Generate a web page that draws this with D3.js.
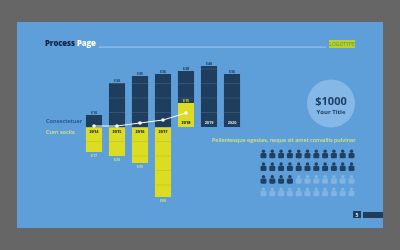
<!DOCTYPE html>
<html><head><meta charset="utf-8">
<script src="https://cdn.jsdelivr.net/npm/d3@7"></script>
<style>html,body{margin:0;padding:0;background:#666}svg{display:block;filter:blur(.35px)}text{font-family:"Open Sans",sans-serif}</style>
</head><body><svg id="c" width="400" height="250"></svg>
<script>
const years=["2014","2015","2016","2017","2018","2019","2020"];
const darkValues=[12,44,51,53,56,61,53];
const darkLabels=["$10","$30","$35","$36","$38","$40","$36"];
const yellowValues=[-25,-29,-36,-70,24,0,0];
const yellowLabels=["$17","$20","$25","$50","$15","",""];
const lineValues=[1,1,4,7,14];
const rowsOn=[11,11,4,0];
const iconCols=d3.range(11);
const iconRows=d3.range(4);

const svg=d3.select("#c");
const dark="#1f3d5c",yellow="#dcdc22",pale="#d4e67c";
svg.append("rect").attr("x",17).attr("y",22).attr("width",366).attr("height",206).attr("fill","#5f9fd9");

// header
const t=svg.append("text").attr("x",45).attr("y",45.5).attr("font-size",7.8).attr("font-weight",800).attr("letter-spacing",-.1);
t.append("tspan").attr("fill","#0d2244").text("Process ");
t.append("tspan").attr("fill","#fff").text("Page");
svg.append("rect").attr("x",99).attr("y",46.5).attr("width",227).attr("height",1.2).attr("fill","#94c3ec");
svg.append("rect").attr("x",329).attr("y",40).attr("width",26).attr("height",8).attr("fill","#b4d236");
svg.append("text").attr("x",342).attr("y",46).attr("text-anchor","middle").attr("font-size",5).attr("fill","#6f8f30").text("LOGOTYPE");

// chart
const x=d3.scaleBand().domain(years).range([82.5,243.5]).paddingInner(.3).paddingOuter(.15);
const y=d3.scaleLinear().domain([-70,61]).range([197,66]);
const y0=y(0);
const g=svg.append("g");
// dark bars
g.selectAll(".d").data(darkValues).join("rect").attr("x",(d,i)=>x(years[i])).attr("width",x.bandwidth())
 .attr("y",d=>y(d)).attr("height",d=>y0-y(d)).attr("fill",dark);
// separators within bars
darkValues.forEach((v,i)=>{
  d3.range(0,v,14.5).slice(1).forEach(s=>g.append("line").attr("x1",x(years[i])).attr("x2",x(years[i])+x.bandwidth())
   .attr("y1",y(s)).attr("y2",y(s)).attr("stroke","#3f6488").attr("stroke-width",.6));
  g.append("text").attr("x",x(years[i])+x.bandwidth()/2).attr("y",y(v)-1.5).attr("text-anchor","middle").attr("font-size",3.8).attr("font-weight",700).attr("fill",dark).text(darkLabels[i]);
});
// yellow bars
yellowValues.forEach((v,i)=>{
  const bx=x(years[i]),w=x.bandwidth(),cx=bx+w/2;
  if(v<0){
    const top=y0+.5,bot=y(v);
    g.append("rect").attr("x",bx).attr("y",top).attr("width",w).attr("height",bot-top).attr("fill",yellow);
    d3.range(14.5,-v,14.5).forEach(s=>g.append("line").attr("x1",bx).attr("x2",bx+w).attr("y1",y(-s)).attr("y2",y(-s)).attr("stroke","#c3c326").attr("stroke-width",.6));
    g.append("text").attr("x",cx).attr("y",bot+5).attr("text-anchor","middle").attr("font-size",3.8).attr("font-weight",600).attr("fill",pale).text(yellowLabels[i]);
    g.append("text").attr("x",cx).attr("y",top+5.5).attr("text-anchor","middle").attr("font-size",3.8).attr("font-weight",800).attr("fill","#1c2c30").text(years[i]);
  } else if(v>0){
    g.append("rect").attr("x",bx).attr("y",y(v)).attr("width",w).attr("height",y0-y(v)).attr("fill",yellow);
    g.append("text").attr("x",cx).attr("y",y(v)-1.5).attr("text-anchor","middle").attr("font-size",3.8).attr("font-weight",700).attr("fill",yellow).text(yellowLabels[i]);
    g.append("text").attr("x",cx).attr("y",y0-3).attr("text-anchor","middle").attr("font-size",3.8).attr("font-weight",800).attr("fill","#1c2c30").text(years[i]);
  } else {
    g.append("text").attr("x",cx).attr("y",y0-3).attr("text-anchor","middle").attr("font-size",3.8).attr("font-weight",700).attr("fill","#dbe6ef").text(years[i]);
  }
});
// line
const line=d3.line().x((d,i)=>x(years[i])+x.bandwidth()/2).y(d=>y(d));
g.append("path").datum(lineValues).attr("d",line).attr("fill","none").attr("stroke","#fff").attr("stroke-width",1);
g.selectAll(".p").data(lineValues).join("circle").attr("cx",(d,i)=>x(years[i])+x.bandwidth()/2).attr("cy",d=>y(d)).attr("r",1.8).attr("fill","#fff");

// legend
svg.append("text").attr("x",46).attr("y",123).attr("font-size",5.6).attr("font-weight",600).attr("fill","#1f4a7c").text("Consectetuer");
svg.append("text").attr("x",46).attr("y",134).attr("font-size",5.6).attr("font-weight",600).attr("fill",pale).text("Cum sociis");

// circle
svg.append("circle").attr("cx",331).attr("cy",103.5).attr("r",24).attr("fill","#85b8e6");
svg.append("text").attr("x",331).attr("y",105).attr("text-anchor","middle").attr("font-size",11).attr("font-weight",700).attr("fill","#1c4066").text("$1000");
svg.append("text").attr("x",331).attr("y",113.5).attr("text-anchor","middle").attr("font-size",6).attr("font-weight",700).attr("fill","#1c4066").text("Your Title");

// sentence
svg.append("text").attr("x",212).attr("y",142).attr("font-size",5.4).attr("font-weight",600).attr("fill",pale).text("Pellentesque egestas, neque sit amet convallis pulvinar");

// people
const ix=d3.scalePoint().domain(iconCols).range([263.5,351.5]);
const iy=d3.scalePoint().domain(iconRows).range([154.5,192.5]);
iconRows.forEach(r=>iconCols.forEach(c=>{
  const on=c<rowsOn[r];
  const col=on?"#1f3f63":"#7fb4e3";
  const p=svg.append("g").attr("transform",`translate(${ix(c)},${iy(r)})`).attr("fill",col);
  p.append("circle").attr("cy",-3.2).attr("r",1.7);
  p.append("rect").attr("x",-3).attr("y",-1.4).attr("width",6).attr("height",5.2).attr("rx",1.3);
}));

// page number
svg.append("rect").attr("x",353).attr("y",211).attr("width",8).attr("height",7).attr("fill",dark);
svg.append("text").attr("x",357).attr("y",216.5).attr("text-anchor","middle").attr("font-size",5).attr("font-weight",700).attr("fill","#dbe6ef").text("5");
svg.append("rect").attr("x",363).attr("y",212).attr("width",20).attr("height",6).attr("fill",dark);
</script></body></html>
